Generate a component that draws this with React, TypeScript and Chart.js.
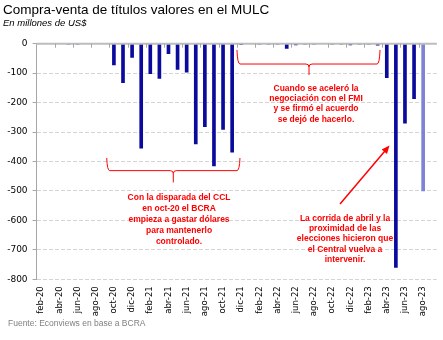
import React, { useEffect, useRef } from "react";
import { Chart, registerables } from "chart.js";

Chart.register(...registerables);

// ---------- DATA ----------
const categories: string[] = [
  "feb-20", "mar-20", "abr-20", "may-20", "jun-20", "jul-20", "ago-20", "sep-20", "oct-20", "nov-20", "dic-20",
  "ene-21", "feb-21", "mar-21", "abr-21", "may-21", "jun-21", "jul-21", "ago-21", "sep-21", "oct-21", "nov-21", "dic-21",
  "ene-22", "feb-22", "mar-22", "abr-22", "may-22", "jun-22", "jul-22", "ago-22", "sep-22", "oct-22", "nov-22", "dic-22",
  "ene-23", "feb-23", "mar-23", "abr-23", "may-23", "jun-23", "jul-23", "ago-23", "sep-23",
];

const values: (number | null)[] = [
  0, 0, 0, -1, -2, 0, 0, 0, -72, -132, -47,
  -355, -102, -118, -34, -87, -97, -340, -282, -415, -291, -368, -3,
  0, -2, -2, -1, -16, -4, -2, -1, 0, -2, -2, -4,
  -2, -2, -5, -115, -760, -270, -187, -500, null,
];

const yTicks: number[] = [0, -100, -200, -300, -400, -500, -600, -700, -800];

const titleText = "Compra-venta de títulos valores en el MULC";
const subtitleText = "En millones de US$";
const sourceText = "Fuente: Econviews en base a BCRA";

// annotation texts
const noteCCL: string[] = ["Con la disparada del CCL", "en oct-20 el BCRA", "empieza a gastar dólares", "para mantenerlo", "controlado."];
const noteFMI: string[] = ["Cuando se aceleró la", "negociación con el FMI", "y se firmó el acuerdo", "se dejó de hacerlo."];
const noteCorrida: string[] = ["La corrida de abril y la", "proximidad de las", "elecciones hicieron que", "el Central vuelva a", "intervenir."];

// annotation anchors in data units (category index, value)
const braceCCL = { from: 7.21, to: 21.86, mid: 14.53, top: -388, level: -431, tip: -471 };
const braceFMI = { from: 21.53, to: 37.26, mid: 29.45, top: -21, level: -69, tip: -106 };
const textCCLAt = { x: 15.16, y: -524 };
const textFMIAt = { x: 30.22, y: -151 };
const textCorridaAt = { x: 33.41, y: -593 };
const arrowCorrida = { x1: 32.86, y1: -544, x2: 38.3, y2: -346 };

// ---------- STYLE ----------
const BAR_COLOR = "#0A0A9C";
const BAR_LAST_COLOR = "#7F82D8";
const RED = "#FF0000";

const annotationPlugin = {
  id: "annotations",
  afterDatasetsDraw(chart: any) {
    const { ctx, chartArea } = chart;
    const x = chart.scales.x;
    const y = chart.scales.y;
    const px = (v: number) => x.getPixelForValue(v);
    const py = (v: number) => y.getPixelForValue(v);
    ctx.save();

    // zero axis line
    const y0 = py(0);
    ctx.strokeStyle = "#BDBDBD";
    ctx.lineWidth = 2;
    ctx.setLineDash([]);
    ctx.beginPath();
    ctx.moveTo(chartArea.left, y0);
    ctx.lineTo(chartArea.right, y0);
    ctx.stroke();
    // tick marks every two categories (at category boundaries)
    ctx.lineWidth = 1;
    ctx.strokeStyle = "#A6A6A6";
    for (let i = 2; i < categories.length; i += 2) {
      const bx = Math.round(px(i - 0.5)) + 0.5;
      ctx.beginPath();
      ctx.moveTo(bx, y0);
      ctx.lineTo(bx, y0 + 4);
      ctx.stroke();
    }

    // braces
    ctx.strokeStyle = RED;
    ctx.lineWidth = 1;
    const drawBrace = (b: any) => {
      const xl = px(b.from), xr = px(b.to), xm = px(b.mid);
      const yt = py(b.top), yl = py(b.level), ytip = py(b.tip);
      ctx.beginPath();
      ctx.moveTo(xl, yt);
      ctx.quadraticCurveTo(xl + 0.5, yl, xl + 3, yl);
      ctx.lineTo(xm - 3, yl);
      ctx.quadraticCurveTo(xm, yl, xm, yl + 3);
      ctx.lineTo(xm, ytip);
      ctx.moveTo(xm, yl + 3);
      ctx.quadraticCurveTo(xm, yl, xm + 3, yl);
      ctx.lineTo(xr - 3, yl);
      ctx.quadraticCurveTo(xr - 0.5, yl, xr, yt);
      ctx.stroke();
    };
    drawBrace(braceCCL);
    drawBrace(braceFMI);

    // arrow
    const ax1 = px(arrowCorrida.x1), ay1 = py(arrowCorrida.y1);
    const ax2 = px(arrowCorrida.x2), ay2 = py(arrowCorrida.y2);
    const ang = Math.atan2(ay2 - ay1, ax2 - ax1);
    const headL = 8, headW = 3.5;
    ctx.lineWidth = 1.5;
    ctx.beginPath();
    ctx.moveTo(ax1, ay1);
    ctx.lineTo(ax2 - Math.cos(ang) * headL * 0.8, ay2 - Math.sin(ang) * headL * 0.8);
    ctx.stroke();
    ctx.fillStyle = RED;
    ctx.beginPath();
    ctx.moveTo(ax2, ay2);
    ctx.lineTo(ax2 - Math.cos(ang) * headL + Math.sin(ang) * headW, ay2 - Math.sin(ang) * headL - Math.cos(ang) * headW);
    ctx.lineTo(ax2 - Math.cos(ang) * headL - Math.sin(ang) * headW, ay2 - Math.sin(ang) * headL + Math.cos(ang) * headW);
    ctx.closePath();
    ctx.fill();

    // texts
    ctx.font = 'bold 8.5px "Liberation Sans", Arial, sans-serif';
    ctx.fillStyle = RED;
    ctx.textAlign = "center";
    ctx.textBaseline = "middle";
    const drawLines = (lines: string[], at: any, lh: number) => {
      const cx = px(at.x);
      const cy = py(at.y);
      lines.forEach((l, i) => ctx.fillText(l, cx, cy + i * lh));
    };
    drawLines(noteCCL, textCCLAt, 11);
    drawLines(noteFMI, textFMIAt, 10.4);
    drawLines(noteCorrida, textCorridaAt, 10.3);

    ctx.restore();
  },
};

export default function App() {
  const canvasRef = useRef<HTMLCanvasElement | null>(null);

  useEffect(() => {
    if (!canvasRef.current) return;
    const lastIdx = values.reduce((acc: number, v, i) => (v !== null ? i : acc), 0);
    const chart = new Chart(canvasRef.current, {
      type: "bar",
      data: {
        labels: categories,
        datasets: [
          {
            data: values as any,
            backgroundColor: values.map((_, i) => (i === lastIdx ? BAR_LAST_COLOR : BAR_COLOR)),
            barThickness: 3,
            borderWidth: 0,
          },
        ],
      },
      options: {
        animation: false,
        responsive: false,
        devicePixelRatio: 1,
        layout: { padding: { top: 43.7, right: 6.2, bottom: 20.7, left: 0 } },
        plugins: { legend: { display: false }, tooltip: { enabled: false }, title: { display: false } },
        scales: {
          x: {
            type: "category",
            offset: true,
            grid: { display: false, drawTicks: false },
            border: { display: false },
            ticks: {
              autoSkip: false,
              maxRotation: 90,
              minRotation: 90,
              padding: 7,
              color: "#000",
              font: { family: "'DejaVu Sans', sans-serif", size: 8.5 },
              callback: (_v: any, i: number) => (i % 2 === 0 ? categories[i] : ""),
            },
            afterFit: (s: any) => {
              s.height = 40;
              s.paddingLeft = 0;
              s.paddingRight = 0;
            },
          },
          y: {
            min: yTicks[yTicks.length - 1],
            max: yTicks[0],
            afterBuildTicks: (s: any) => {
              s.ticks = yTicks.map((v) => ({ value: v }));
            },
            ticks: {
              padding: 5,
              color: "#000",
              font: { family: "'DejaVu Sans', sans-serif", size: 9 },
            },
            grid: {
              color: "#D4D4D4",
              lineWidth: 1,
              drawTicks: true,
              tickLength: 4,
              tickColor: "#A6A6A6",
              tickBorderDash: [],
            },
            border: { display: true, color: "#A6A6A6", width: 1, dash: [4, 2] },
            afterFit: (s: any) => {
              s.width = 36.6;
              s.paddingTop = 0;
              s.paddingBottom = 0;
            },
          },
        },
      },
      plugins: [annotationPlugin],
    });
    return () => chart.destroy();
  }, []);

  return (
    <div style={{ position: "absolute", left: 0, top: 0, width: 443, height: 340, background: "#fff", overflow: "hidden" }}>
      <canvas ref={canvasRef} width={443} height={340} style={{ position: "absolute", left: 0, top: 0, width: 443, height: 340 }} />
      <div
        style={{
          position: "absolute", left: 3, top: 2, fontFamily: "'Liberation Sans', Arial, sans-serif",
          fontSize: 13.5, lineHeight: "16px", color: "#000", whiteSpace: "nowrap",
        }}
      >
        {titleText}
      </div>
      <div
        style={{
          position: "absolute", left: 3, top: 17.2, fontFamily: "'Liberation Sans', Arial, sans-serif",
          fontSize: 9.5, fontStyle: "italic", lineHeight: "12px", color: "#000", whiteSpace: "nowrap",
        }}
      >
        {subtitleText}
      </div>
      <div
        style={{
          position: "absolute", left: 8, top: 318, fontFamily: "'Liberation Sans', Arial, sans-serif",
          fontSize: 8.5, lineHeight: "10px", color: "#808080", whiteSpace: "nowrap",
        }}
      >
        {sourceText}
      </div>
    </div>
  );
}
